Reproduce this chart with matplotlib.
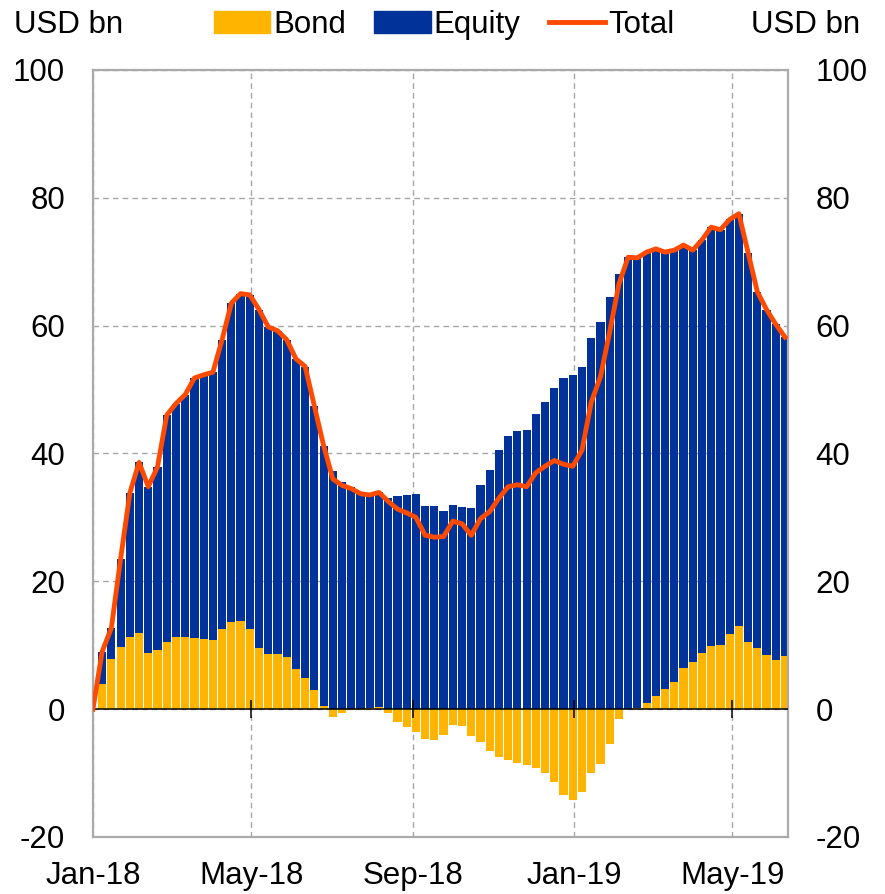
import matplotlib
matplotlib.use('Agg')
import matplotlib.pyplot as plt
from matplotlib.patches import Patch
from matplotlib.lines import Line2D
import numpy as np
import pandas as pd

plt.rcParams['font.family'] = ['Liberation Sans', 'DejaVu Sans']
plt.rcParams['axes.unicode_minus'] = False

# weekly cumulative flows since Jan-18, USD bn
semanas = pd.date_range('2018-01-01', periods=76, freq='7D')

bond = [0.0, 4.0, 7.8, 9.7, 11.3, 11.9, 8.8, 9.2, 10.5, 11.3,
        11.3, 11.1, 11.0, 10.8, 12.5, 13.7, 13.8, 12.5, 9.5, 8.7,
        8.7, 8.2, 6.2, 4.8, 3.0, 0.5, -1.2, -0.6, -0.2, -0.1,
        0.1, 0.3, -0.6, -2.0, -2.8, -3.6, -4.6, -4.8, -4.0, -2.5,
        -2.6, -4.2, -5.2, -6.5, -7.5, -8.0, -8.4, -8.8, -9.2, -10.0,
        -11.4, -13.5, -14.2, -13.0, -10.0, -8.6, -5.4, -1.5, 0.0, 0.1,
        1.0, 2.1, 3.1, 4.3, 6.5, 7.4, 8.8, 9.9, 10.0, 11.7,
        13.0, 10.5, 9.5, 8.4, 7.7, 8.3]

equity = [0.0, 5.0, 4.9, 13.8, 22.5, 26.7, 26.0, 28.7, 35.5, 36.5,
          37.9, 40.7, 41.3, 41.9, 45.3, 49.8, 51.2, 52.3, 53.0, 51.1,
          50.5, 49.6, 48.6, 48.8, 44.4, 40.7, 37.2, 35.6, 34.7, 33.8,
          33.4, 33.6, 33.1, 33.3, 33.5, 33.6, 31.8, 31.7, 31.0, 31.9,
          31.6, 31.4, 35.0, 37.4, 40.5, 42.8, 43.5, 43.6, 46.2, 48.0,
          50.3, 51.8, 52.2, 53.5, 58.0, 60.6, 64.4, 68.0, 70.7, 70.5,
          70.5, 69.9, 68.4, 67.5, 66.1, 64.4, 64.6, 65.5, 65.0, 64.9,
          64.5, 60.9, 55.8, 54.1, 52.5, 49.9]

total = [0.0, 9.0, 12.7, 23.5, 33.8, 38.6, 34.8, 37.9, 46.0, 47.8,
         49.2, 51.8, 52.3, 52.7, 57.8, 63.5, 65.0, 64.8, 62.5, 59.8,
         59.2, 57.8, 54.8, 53.6, 47.4, 41.2, 36.0, 35.0, 34.5, 33.7,
         33.5, 33.9, 32.5, 31.3, 30.7, 30.0, 27.2, 26.9, 27.0, 29.4,
         29.0, 27.2, 29.8, 30.9, 33.0, 34.8, 35.1, 34.8, 37.0, 38.0,
         38.9, 38.3, 38.0, 40.5, 48.0, 52.0, 59.0, 66.5, 70.7, 70.6,
         71.5, 72.0, 71.5, 71.8, 72.6, 71.8, 73.4, 75.4, 75.0, 76.6,
         77.5, 71.4, 65.3, 62.5, 60.2, 58.2]

meses = pd.to_datetime(['2018-01-01', '2018-05-01', '2018-09-01',
                        '2019-01-01', '2019-05-01'])
rotulos = ['Jan-18', 'May-18', 'Sep-18', 'Jan-19', 'May-19']

cor_bond = '#FFB400'
cor_equity = '#003299'
cor_total = '#FF4B00'
cor_borda = '#ABABAB'

fig = plt.figure(figsize=(8.85, 8.94), dpi=100)
ax = fig.add_axes([0.105, 0.0638, 0.785, 0.858])

bond = np.array(bond)
equity = np.array(equity)
base_equity = np.clip(bond, 0, None)

ax.bar(semanas, bond, width=6.2, color=cor_bond, zorder=2)
ax.bar(semanas, equity, width=6.2, bottom=base_equity, color=cor_equity, zorder=2)
ax.axhline(0, color='black', lw=1.1, zorder=3)
ax.vlines(meses[1:], -1.4, 1.4, color='black', lw=1.1, zorder=3)
ax.plot(semanas, total, color=cor_total, lw=3.5, zorder=4,
        solid_joinstyle='round')

ax.set_xlim(pd.Timestamp('2018-01-01'), pd.Timestamp('2019-06-12'))
ax.set_ylim(-20, 100)
ax.set_yticks([-20, 0, 20, 40, 60, 80, 100])
ax.set_xticks(meses)
ax.set_xticklabels(rotulos)

ax.grid(True, color='#A6A6A6', linestyle=(0, (4, 3)), lw=1.0, zorder=0)
ax.set_axisbelow(True)

for lado in ['left', 'right', 'top', 'bottom']:
    ax.spines[lado].set_color(cor_borda)
    ax.spines[lado].set_linewidth(1.6)

ax.tick_params(axis='x', length=0, pad=17, labelsize=22.5)
ax.tick_params(axis='y', length=0, pad=20, labelsize=22.5,
               labelleft=True, labelright=True)

fig.text(0.016, 0.972, 'USD bn', fontsize=22.5, va='center', ha='left')
fig.text(0.972, 0.972, 'USD bn', fontsize=22.5, va='center', ha='right')

handles = [Patch(color=cor_bond), Patch(color=cor_equity),
           Line2D([], [], color=cor_total, lw=3.5)]
fig.legend(handles, ['Bond', 'Equity', 'Total'], loc='center',
           bbox_to_anchor=(0.502, 0.972), ncol=3, frameon=False,
           fontsize=22.5, handlelength=1.8, handletextpad=0.1,
           columnspacing=0.9, borderpad=0)

fig.savefig('out.png', dpi=100)
